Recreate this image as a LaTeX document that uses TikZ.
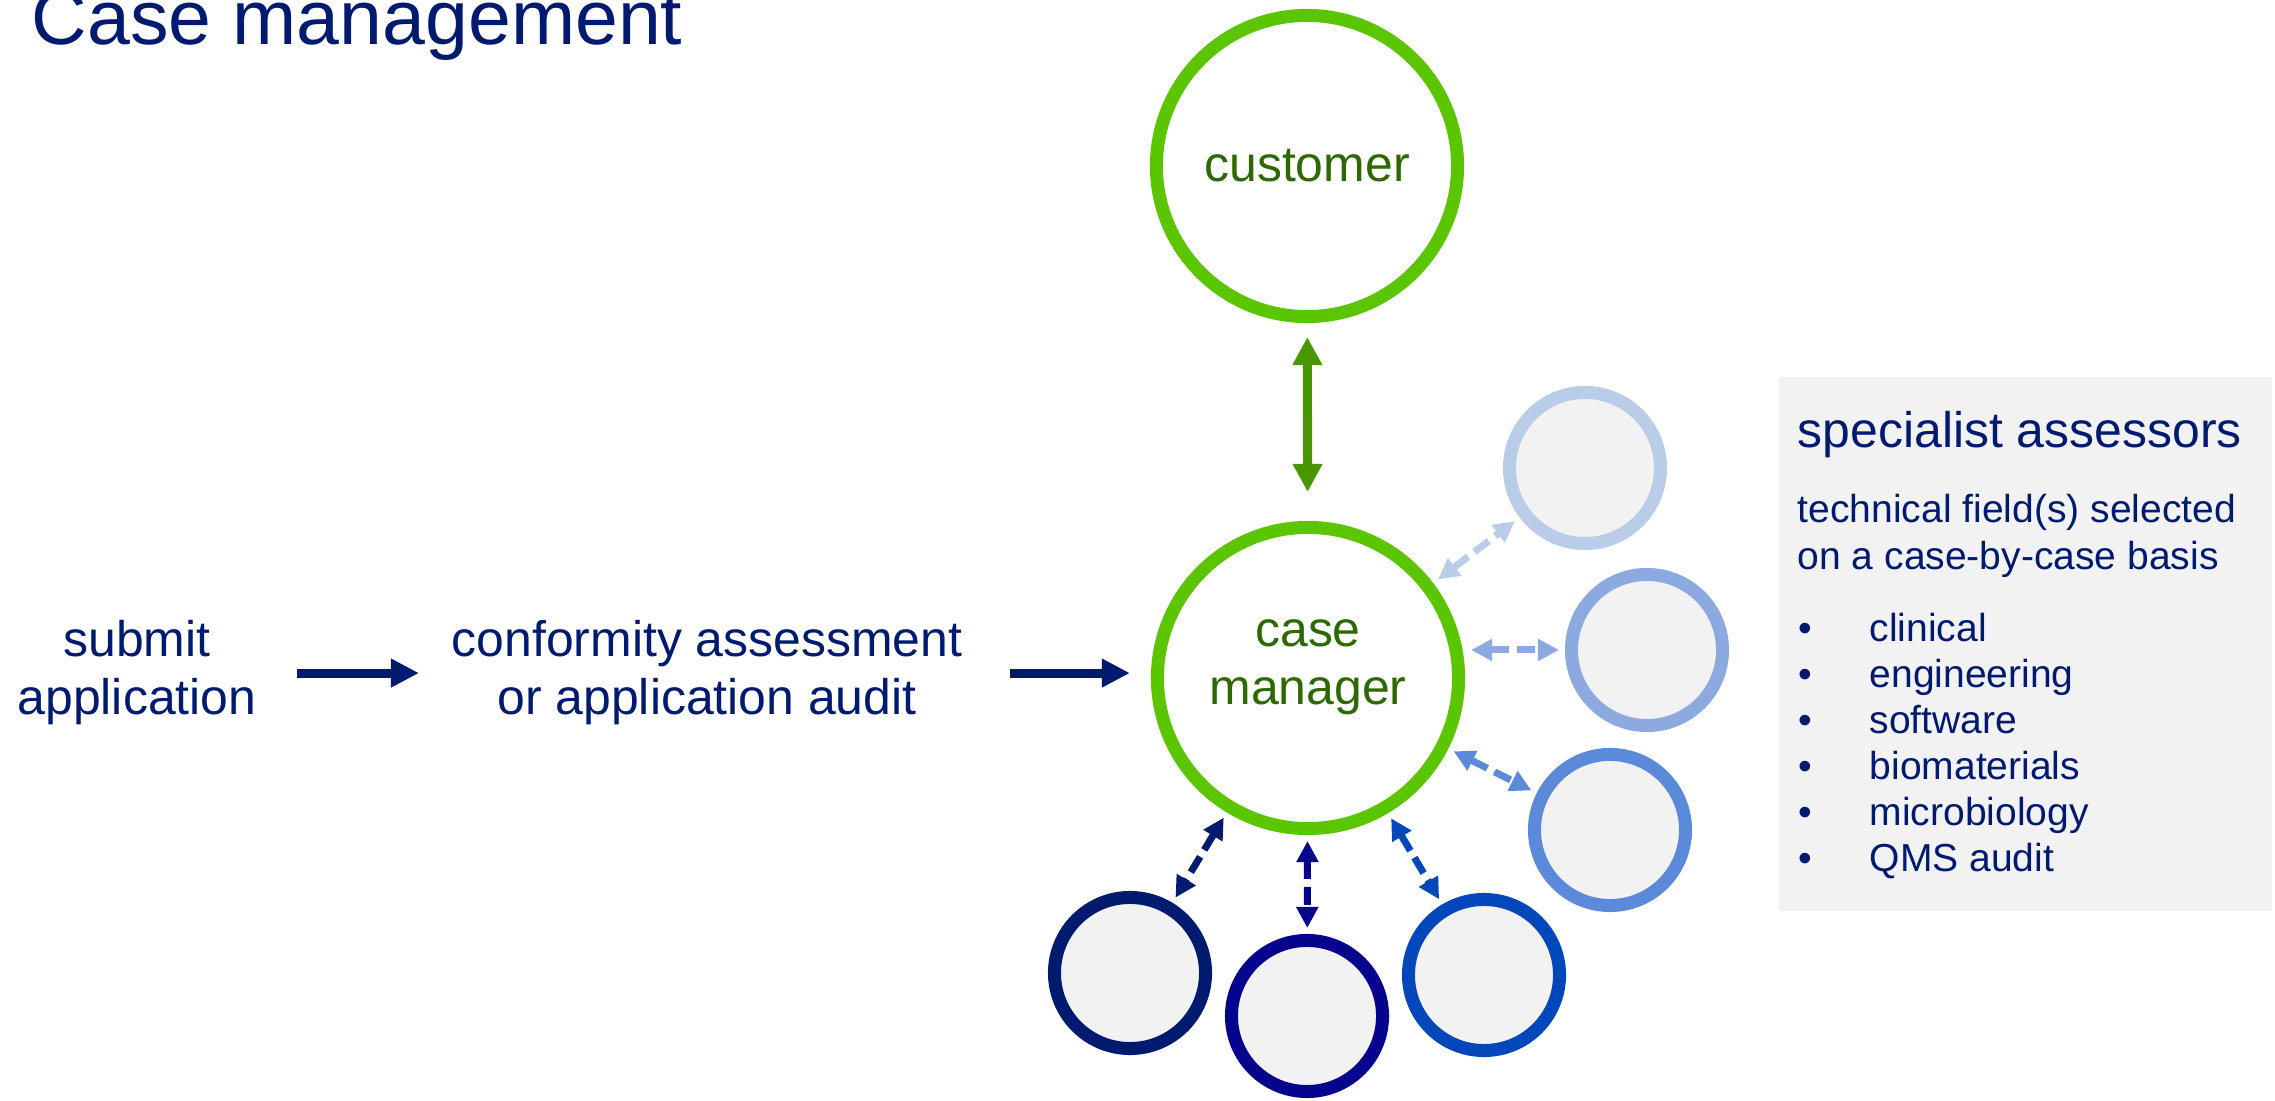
\documentclass[tikz,border=0pt]{standalone}
\usepackage{fontspec}
\setmainfont{Liberation Sans}
\usetikzlibrary{positioning}
\usetikzlibrary{calc}
\usetikzlibrary{arrows.meta}

\definecolor{navy}{RGB}{0,26,112}
\definecolor{leaf}{RGB}{91,197,0}
\definecolor{leafdark}{RGB}{72,150,0}
\definecolor{leaftext}{RGB}{46,104,0}
\definecolor{paleblue}{RGB}{185,205,233}
\definecolor{softblue}{RGB}{140,170,224}
\definecolor{midblue}{RGB}{92,138,218}
\definecolor{royal}{RGB}{0,71,187}
\definecolor{indigo}{RGB}{6,3,141}
\definecolor{panelgray}{RGB}{242,242,242}

\tikzset{
	bigring/.style={circle, draw=leaf, line width=0.13cm, minimum size=3.01cm, inner sep=0pt},
	ring/.style={circle, draw=#1, fill=panelgray, line width=0.13cm, minimum size=1.51cm, inner sep=0pt},
	flowtext/.style={text=navy, align=center, inner sep=0pt, font=\fontsize{14.2pt}{16.5pt}\selectfont},
	flow/.style={navy, line width=0.09cm, -{Triangle[length=0.28cm, width=0.27cm]}},
	link/.style={#1, line width=0.07cm, dash pattern=on 0.18cm off 0.08cm, {Triangle[length=0.21cm, width=0.21cm]}-{Triangle[length=0.21cm, width=0.21cm]}, shorten <=0.06cm, shorten >=0.06cm},
}

\begin{document}
\begin{tikzpicture}[x=0.01cm, y=-0.01cm]
	
	\useasboundingbox (0,0) rectangle (2275,1101);
	
	\node [anchor=base west, inner sep=0pt, text=navy, font=\fontsize{21.9pt}{26pt}\selectfont] (title) at (31,45) {Case management};
	
	% base of a multi-line node = its last line
	\node [flowtext, anchor=base] (submit) at (137,715) {submit\\application};
	\node [flowtext, anchor=base] (conform) at (707,715) {conformity assessment\\or application audit};
	
	\node [bigring, text=leaftext, font=\fontsize{14.2pt}{16.5pt}\selectfont] (customer) at (1307,166) {customer};
	\node [bigring] (manager) at (1308,678) {};
	\node [flowtext, text=leaftext, anchor=base] (managertext) at (1308,705) {case\\manager};
	
	\node [ring=paleblue] (pale) at (1585,468) {};
	\node [ring=softblue] (soft) at (1647,650) {};
	\node [ring=midblue] (mid) at (1610,830) {};
	\node [ring=royal] (royalring) at (1484,975) {};
	\node [ring=indigo] (indigoring) at (1307,1016) {};
	\node [ring=navy] (navyring) at (1130,973) {};
	
	\draw [flow, shorten <=0.40cm, shorten >=0.32cm] (submit.east) -- (conform.west);
	\draw [flow, shorten <=0.47cm, shorten >=0.21cm] (conform.east) -- (conform.east -| manager.west);
	
	\draw [leafdark, line width=0.09cm, {Triangle[length=0.28cm, width=0.28cm]}-{Triangle[length=0.28cm, width=0.28cm]}, shorten <=0.14cm, shorten >=0.29cm] (customer) -- (manager);
	
	\draw [link=paleblue] (manager) -- (pale);
	\draw [link=softblue] (soft.west -| manager.east) -- (soft.west);
	\draw [link=midblue] (manager) -- (mid);
	\draw [link=royal] (manager) -- (royalring);
	\draw [link=indigo] (manager) -- (indigoring);
	\draw [link=navy] (manager) -- (navyring);
	
	% assessor panel
	\node [fill=panelgray, minimum width=4.93cm, minimum height=5.34cm, anchor=north west, inner sep=0pt] (panel) at (1778,376) {};
	\node [anchor=base west, inner sep=0pt, text=navy, font=\fontsize{14.2pt}{16.5pt}\selectfont] (heading) at (1797,448) {specialist assessors};
	\node [anchor=base west, align=left, inner sep=0pt, text=navy, font=\fontsize{11.1pt}{13.4pt}\selectfont] (fields) at (1797,570) {technical field(s) selected\\on a case-by-case basis};
	\node [anchor=base west, align=left, inner sep=0pt, text=navy, font=\fontsize{11.1pt}{13.1pt}\selectfont] (areas) at (1798,872) {\makebox[0.71cm][l]{\textbullet}clinical\\\makebox[0.71cm][l]{\textbullet}engineering\\\makebox[0.71cm][l]{\textbullet}software\\\makebox[0.71cm][l]{\textbullet}biomaterials\\\makebox[0.71cm][l]{\textbullet}microbiology\\\makebox[0.71cm][l]{\textbullet}QMS audit};
	
\end{tikzpicture}
\end{document}
